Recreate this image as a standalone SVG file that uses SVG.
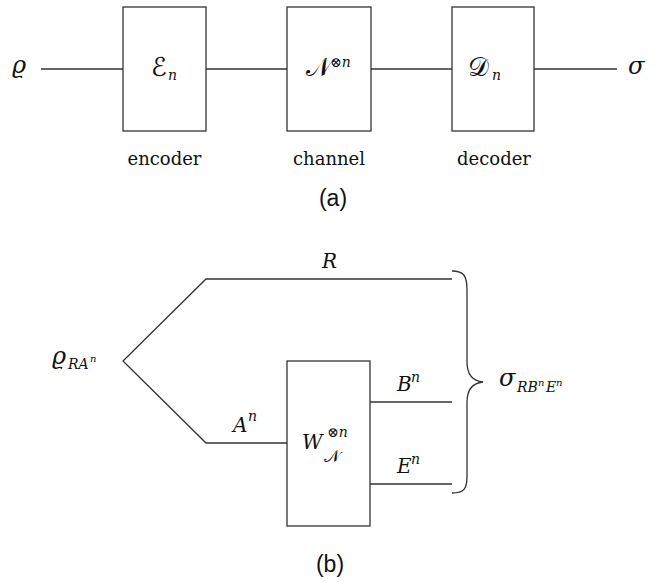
<svg xmlns="http://www.w3.org/2000/svg" width="660" height="582" viewBox="0 0 660 582">
<style>
.ln{stroke:#333;stroke-width:1.3;fill:none}
.bx{stroke:#333;stroke-width:1.3;fill:#fff}
.t{font-family:"DejaVu Serif","Liberation Serif",serif;font-size:18px;fill:#111}
.m{font-family:"DejaVu Serif","Liberation Serif",serif;font-style:italic;font-size:20px;fill:#111}
.g{font-family:"DejaVu Serif","Liberation Serif",serif;font-style:italic;font-size:24px;fill:#111}
.s{font-family:"DejaVu Serif","Liberation Serif",serif;font-style:italic;font-size:14px;fill:#111}
.ss{font-family:"DejaVu Serif","Liberation Serif",serif;font-style:italic;font-size:10px;fill:#111}
.c{font-family:"Liberation Sans","DejaVu Sans",sans-serif;font-size:23px;fill:#111}
.cal{font-family:"DejaVu Sans","Noto Sans",serif;font-size:26px;fill:#111}
.cs{font-family:"DejaVu Sans","Noto Sans",serif;font-size:17px;fill:#111}
</style>
<g id="connectors">
<line class="ln" x1="41" y1="69" x2="123" y2="69"/>
<line class="ln" x1="206" y1="69" x2="287" y2="69"/>
<line class="ln" x1="371" y1="69" x2="452" y2="69"/>
<line class="ln" x1="534" y1="69" x2="617" y2="69"/>
<polyline class="ln" points="452,279 206,279 123,361 206,443 287,443"/>
<line class="ln" x1="370" y1="402" x2="452" y2="402"/>
<line class="ln" x1="370" y1="484" x2="452" y2="484"/>
<path class="ln" d="M452,271 C464,271 467,276 467,290 L467,362 C467,375 473,381 483,382 C473,383 467,389 467,402 L467,476 C467,489 464,493 452,493"/>
</g>
<g id="rho"><text class="g" x="12" y="73">ϱ</text></g>
<g id="sigma"><text class="g" x="628" y="74">σ</text></g>
<g id="encoder">
<rect class="bx" x="123" y="7" width="83" height="124"/>
<text class="cal" x="151" y="76">ℰ</text><text class="s" x="168" y="80">n</text>
<text class="t" x="164.5" y="165" text-anchor="middle">encoder</text>
</g>
<g id="channel">
<rect class="bx" x="287" y="7" width="84" height="124"/>
<text class="cal" x="306" y="76">𝒩</text><text class="s" x="330" y="67">⊗n</text>
<text class="t" x="329" y="165" text-anchor="middle">channel</text>
</g>
<g id="decoder">
<rect class="bx" x="452" y="7" width="82" height="124"/>
<text class="cal" x="468" y="76">𝒟</text><text class="s" x="492" y="80">n</text>
<text class="t" x="494" y="165" text-anchor="middle">decoder</text>
</g>
<text class="c" x="333" y="206" text-anchor="middle">(a)</text>
<g id="rhoRA">
<text class="g" x="52" y="364">ϱ</text><text class="s" x="68" y="369">RA</text><text class="ss" x="90" y="362">n</text>
</g>
<text class="m" x="322" y="268">R</text>
<text class="m" x="233" y="432">A</text><text class="s" x="248" y="421">n</text>
<g id="W">
<rect class="bx" x="287" y="361" width="83" height="165"/>
<text class="m" x="302" y="449" font-size="23">W</text><text class="s" x="327" y="437">⊗n</text><text class="cs" x="324" y="462">𝒩</text>
</g>
<text class="m" x="397" y="391">B</text><text class="s" x="411" y="382">n</text>
<text class="m" x="397" y="473">E</text><text class="s" x="411" y="464">n</text>
<g id="sigmaRBE">
<text class="g" x="499" y="386">σ</text><text class="s" x="517" y="392">RB</text><text class="ss" x="538" y="386">n</text><text class="s" x="546" y="392">E</text><text class="ss" x="556" y="386">n</text>
</g>
<text class="c" x="330" y="572" text-anchor="middle">(b)</text>
</svg>
